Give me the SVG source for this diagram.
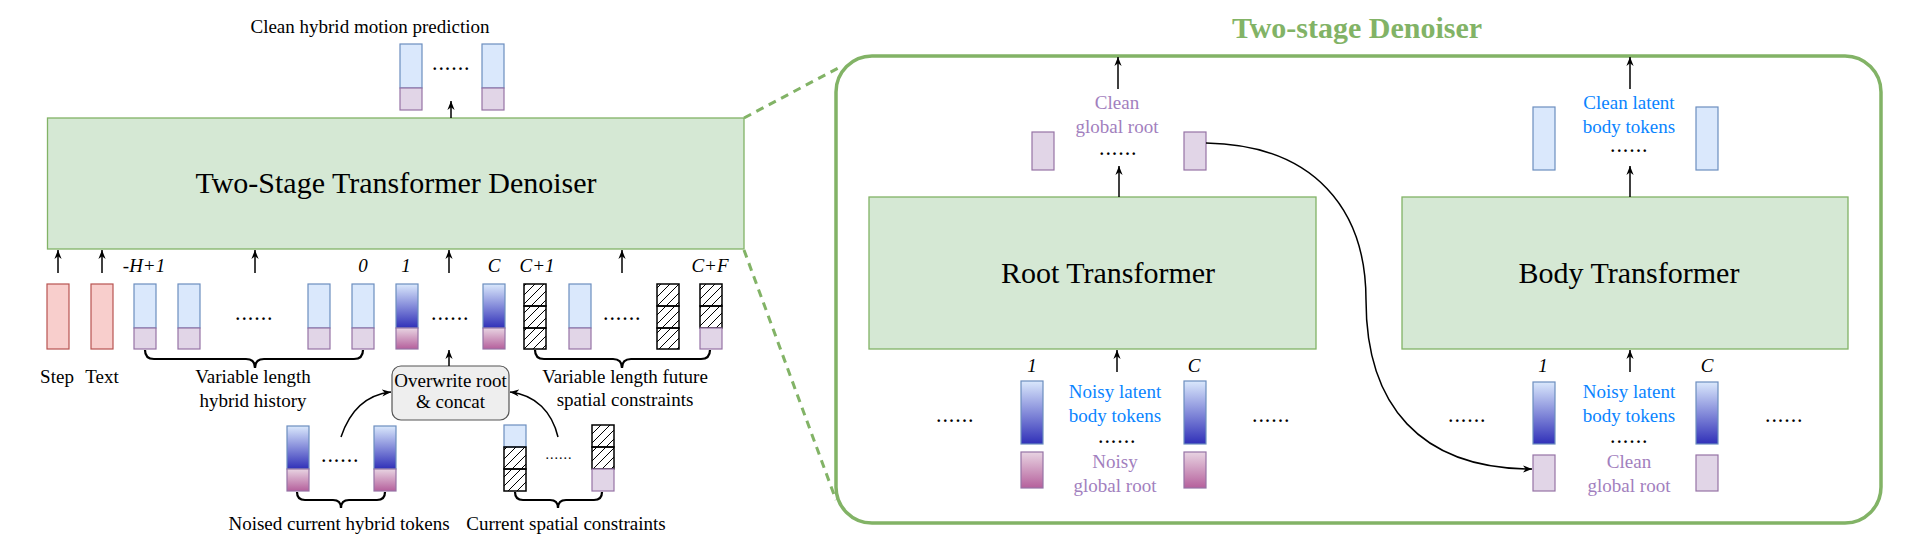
<svg xmlns="http://www.w3.org/2000/svg" width="1920" height="551" viewBox="0 0 1920 551">
<defs>
<linearGradient id="gBlue" x1="0" y1="0" x2="0" y2="1"><stop offset="0" stop-color="#dae8fc"/><stop offset="1" stop-color="#3030b8"/></linearGradient>
<linearGradient id="gPink" x1="0" y1="0" x2="0" y2="1"><stop offset="0" stop-color="#e8d4e2"/><stop offset="1" stop-color="#b5609c"/></linearGradient>
<pattern id="hatch" patternUnits="userSpaceOnUse" width="9" height="9"><path d="M0,9 L9,0" stroke="#000" stroke-width="1"/></pattern>
<marker id="arr" viewBox="0 0 10 10" refX="10" refY="5" markerWidth="9" markerHeight="9" markerUnits="userSpaceOnUse" orient="auto"><path d="M0,1 L10,5 L0,9 L3,5 z" fill="#000"/></marker>
</defs>
<style>
text{font-family:"Liberation Serif","Times New Roman",serif;fill:#000}
.t19{font-size:19px;text-anchor:middle}
.it{font-size:19px;font-style:italic;text-anchor:middle}
.big{font-size:30px;text-anchor:middle}
.dots{font-size:16px;font-weight:bold;letter-spacing:2.4px;text-anchor:middle}
.blue{fill:#dae8fc;stroke:#6c8ebf;stroke-width:1.2}
.purp{fill:#e1d5e7;stroke:#9673a6;stroke-width:1.2}
.nb{fill:url(#gBlue);stroke:#6c8ebf;stroke-width:1.2}
.np{fill:url(#gPink);stroke:#9673a6;stroke-width:1.2}
.red{fill:#f8cecc;stroke:#b85450;stroke-width:1.2}
.hat{fill:url(#hatch);stroke:#000;stroke-width:1.5}
.green{fill:#d5e8d4;stroke:#82b366;stroke-width:1.3}
.arrow{fill:none;stroke:#000;stroke-width:1.5;marker-end:url(#arr)}
.brace{fill:none;stroke:#000;stroke-width:2.2}
.dash{fill:none;stroke:#82b366;stroke-width:3;stroke-dasharray:8 6}
.ptxt{fill:#a27fbe}
.btxt{fill:#0a84ff}
</style>
<rect width="1920" height="551" fill="#fff"/>

<g id="main-denoiser">
<rect class="green" x="47.5" y="118" width="696.5" height="131"/>
<text class="big" x="396" y="193">Two-Stage Transformer Denoiser</text>
</g>

<g id="output-tokens">
<text class="t19" x="370" y="33">Clean hybrid motion prediction</text>
<rect class="blue" x="400" y="44" width="22" height="44"/><rect class="purp" x="400" y="88" width="22" height="22"/>
<text class="dots" x="452" y="70">......</text>
<rect class="blue" x="482" y="44" width="22" height="44"/><rect class="purp" x="482" y="88" width="22" height="22"/>
</g>

<g id="step-text">
<rect class="red" x="47" y="284" width="22" height="65"/>
<rect class="red" x="91" y="284" width="22" height="65"/>
<text class="t19" x="57" y="383">Step</text>
<text class="t19" x="102" y="383">Text</text>
</g>

<g id="history">
<text class="it" x="144" y="272">-H+1</text>
<text class="it" x="363" y="272">0</text>
<rect class="blue" x="134" y="284" width="22" height="44"/><rect class="purp" x="134" y="328" width="22" height="21"/>
<rect class="blue" x="178" y="284" width="22" height="44"/><rect class="purp" x="178" y="328" width="22" height="21"/>
<text class="dots" x="255" y="320">......</text>
<rect class="blue" x="308" y="284" width="22" height="44"/><rect class="purp" x="308" y="328" width="22" height="21"/>
<rect class="blue" x="352" y="284" width="22" height="44"/><rect class="purp" x="352" y="328" width="22" height="21"/>
<path class="brace" d="M145,350 Q145,359 154,359 L246,359 Q255,359 255,368 Q255,359 264,359 L354,359 Q363,359 363,350"/>
<text class="t19" x="253" y="383">Variable length</text>
<text class="t19" x="253" y="407">hybrid history</text>
</g>

<g id="current-tokens">
<text class="it" x="406" y="272">1</text>
<text class="it" x="494" y="272">C</text>
<rect class="nb" x="396" y="284" width="22" height="44"/><rect class="np" x="396" y="328" width="22" height="21"/>
<text class="dots" x="451" y="320">......</text>
<rect class="nb" x="483" y="284" width="22" height="44"/><rect class="np" x="483" y="328" width="22" height="21"/>
</g>

<g id="future">
<text class="it" x="537" y="272">C+1</text>
<text class="it" x="710" y="272">C+F</text>
<rect class="hat" x="524" y="284" width="22" height="22"/><rect class="hat" x="524" y="306" width="22" height="22"/><rect class="hat" x="524" y="328" width="22" height="21"/>
<rect class="blue" x="569" y="284" width="22" height="44"/><rect class="purp" x="569" y="328" width="22" height="21"/>
<text class="dots" x="623" y="320">......</text>
<rect class="hat" x="657" y="284" width="22" height="22"/><rect class="hat" x="657" y="306" width="22" height="22"/><rect class="hat" x="657" y="328" width="22" height="21"/>
<rect class="hat" x="700" y="284" width="22" height="22"/><rect class="hat" x="700" y="306" width="22" height="22"/><rect class="purp" x="700" y="328" width="22" height="21"/>
<path class="brace" d="M535,350 Q535,359 544,359 L613,359 Q622,359 622,368 Q622,359 631,359 L701,359 Q710,359 710,350"/>
<text class="t19" x="625" y="383">Variable length future</text>
<text class="t19" x="625" y="406">spatial constraints</text>
</g>

<g id="overwrite">
<rect x="392" y="366" width="117" height="54" rx="9" fill="#eeeeee" stroke="#555" stroke-width="1.2"/>
<text class="t19" x="450.5" y="387">Overwrite root</text>
<text class="t19" x="450.5" y="408">&amp; concat</text>
</g>

<g id="noised-current">
<rect class="nb" x="287" y="426" width="22" height="43"/><rect class="np" x="287" y="469" width="22" height="22"/>
<text class="dots" x="341" y="462">......</text>
<rect class="nb" x="374" y="426" width="22" height="43"/><rect class="np" x="374" y="469" width="22" height="22"/>
<path class="brace" d="M297,492 Q297,500 305,500 L333,500 Q341,500 341,508 Q341,500 349,500 L377,500 Q385,500 385,492"/>
<text class="t19" x="339" y="530">Noised current hybrid tokens</text>
</g>

<g id="current-spatial">
<rect class="blue" x="504" y="425" width="22" height="22"/><rect class="hat" x="504" y="447" width="22" height="22"/><rect class="hat" x="504" y="469" width="22" height="22"/>
<text x="559" y="459" style="font-size:14px;letter-spacing:1px;text-anchor:middle">......</text>
<rect class="hat" x="592" y="425" width="22" height="22"/><rect class="hat" x="592" y="447" width="22" height="22"/><rect class="purp" x="592" y="469" width="22" height="22"/>
<path class="brace" d="M515,492 Q515,500 523,500 L550,500 Q558,500 558,508 Q558,500 566,500 L594,500 Q602,500 602,492"/>
<text class="t19" x="566" y="530">Current spatial constraints</text>
</g>

<g id="two-stage-frame">
<rect x="836" y="56" width="1045" height="467" rx="36" fill="none" stroke="#82b366" stroke-width="3.5"/>
<text x="1357" y="38" style="font-size:30px;font-weight:bold;text-anchor:middle;fill:#82b366">Two-stage Denoiser</text>
</g>

<g id="root-transformer">
<rect class="green" x="869" y="197" width="447" height="152"/>
<text class="big" x="1108" y="283">Root Transformer</text>
</g>

<g id="root-output">
<text class="t19 ptxt" x="1117" y="109">Clean</text>
<text class="t19 ptxt" x="1117" y="133">global root</text>
<rect class="purp" x="1032" y="132" width="22" height="38"/>
<text class="dots" x="1119" y="155">......</text>
<rect class="purp" x="1184" y="132" width="22" height="38"/>
</g>

<g id="root-input">
<text class="it" x="1032" y="372">1</text>
<text class="it" x="1194" y="372">C</text>
<text class="dots" x="956" y="422">......</text>
<rect class="nb" x="1021" y="381" width="22" height="63"/><rect class="np" x="1021" y="452" width="22" height="36"/>
<text class="t19 btxt" x="1115" y="398">Noisy latent</text>
<text class="t19 btxt" x="1115" y="422">body tokens</text>
<text class="dots" x="1118" y="443">......</text>
<text class="t19 ptxt" x="1115" y="468">Noisy</text>
<text class="t19 ptxt" x="1115" y="492">global root</text>
<rect class="nb" x="1184" y="381" width="22" height="63"/><rect class="np" x="1184" y="452" width="22" height="36"/>
<text class="dots" x="1272" y="422">......</text>
</g>

<g id="body-transformer">
<rect class="green" x="1402" y="197" width="446" height="152"/>
<text class="big" x="1629" y="283">Body Transformer</text>
</g>

<g id="body-output">
<text class="t19 btxt" x="1629" y="109">Clean latent</text>
<text class="t19 btxt" x="1629" y="133">body tokens</text>
<rect class="blue" x="1533" y="107" width="22" height="63"/>
<text class="dots" x="1630" y="152">......</text>
<rect class="blue" x="1696" y="107" width="22" height="63"/>
</g>

<g id="body-input">
<text class="it" x="1543" y="372">1</text>
<text class="it" x="1707" y="372">C</text>
<text class="dots" x="1468" y="422">......</text>
<rect class="nb" x="1533" y="382" width="22" height="62"/><rect class="purp" x="1533" y="455" width="22" height="36"/>
<text class="t19 btxt" x="1629" y="398">Noisy latent</text>
<text class="t19 btxt" x="1629" y="422">body tokens</text>
<text class="dots" x="1630" y="443">......</text>
<text class="t19 ptxt" x="1629" y="468">Clean</text>
<text class="t19 ptxt" x="1629" y="492">global root</text>
<rect class="nb" x="1696" y="382" width="22" height="62"/><rect class="purp" x="1696" y="455" width="22" height="36"/>
<text class="dots" x="1785" y="422">......</text>
</g>

<g id="connectors">
<path class="arrow" d="M451,118 L451,101"/>
<path class="arrow" d="M58,273 L58,250"/>
<path class="arrow" d="M102,273 L102,250"/>
<path class="arrow" d="M255,273 L255,250"/>
<path class="arrow" d="M449,273 L449,250"/>
<path class="arrow" d="M622,273 L622,250"/>
<path class="arrow" d="M449,366 L449,350"/>
<path class="arrow" d="M341,437 C349,413 364,395 391,392"/>
<path class="arrow" d="M558,437 C552,412 536,395 510,392"/>
<path class="dash" d="M744,118 L842,66"/>
<path class="dash" d="M744,250 L836,500"/>
<path class="arrow" d="M1118,89 L1118,57"/>
<path class="arrow" d="M1119,197 L1119,166"/>
<path class="arrow" d="M1117,372 L1117,350"/>
<path class="arrow" d="M1630,89 L1630,57"/>
<path class="arrow" d="M1630,197 L1630,166"/>
<path class="arrow" d="M1630,372 L1630,350"/>
<path class="arrow" d="M1206,143 C1315,145 1366,210 1366,300 C1366,405 1420,469 1532,469"/>
</g>
</svg>
